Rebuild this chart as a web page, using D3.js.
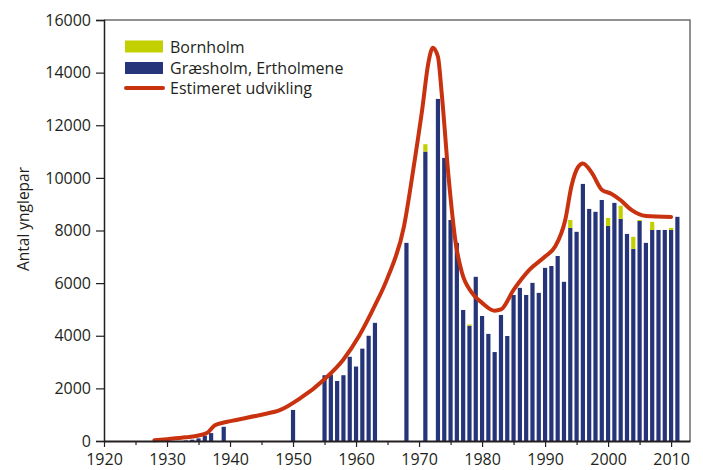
<!DOCTYPE html>
<html>
<head>
<meta charset="utf-8">
<script src="https://cdn.jsdelivr.net/npm/d3@7"></script>
<style>
  body { margin: 0; background: white; }
  text { font-family: "Open Sans", sans-serif; fill: #231f20; }
</style>
</head>
<body>
<script>
// years with counts
var years = [1933, 1934, 1935, 1936, 1937, 1939, 1950,
  1955, 1956, 1957, 1958, 1959, 1960, 1961, 1962, 1963, 1968, 1971,
  1973, 1974, 1975, 1976, 1977, 1978, 1979, 1980, 1981, 1982, 1983, 1984,
  1985, 1986, 1987, 1988, 1989, 1990, 1991, 1992, 1993, 1994, 1995, 1996,
  1997, 1998, 1999, 2000, 2001, 2002, 2003, 2004, 2005, 2006, 2007, 2008,
  2009, 2010, 2011]

// Græsholm, Ertholmene
var graesholm = [20, 50, 100, 200, 300, 540, 1180,
  2500, 2520, 2280, 2500, 3200, 2830, 3510, 4000, 4490, 7530, 11000,
  13000, 10760, 8400, 7530, 4980, 4380, 6240, 4750, 4070, 3380, 4790, 3990,
  5550, 5820, 5550, 6010, 5630, 6580, 6650, 7030, 6050, 8100, 7950, 9770,
  8820, 8710, 9160, 8170, 9050, 8440, 7870, 7300, 8360, 7530, 8020, 8020,
  8020, 8020, 8520]

// Bornholm
var bornholm = [0, 0, 0, 0, 0, 0, 0,
  0, 0, 0, 0, 0, 0, 0, 0, 0, 0, 280,
  0, 0, 0, 0, 0, 50, 0, 0, 0, 0, 0, 0,
  0, 0, 0, 0, 0, 0, 0, 0, 0, 300, 0, 0,
  0, 0, 0, 310, 0, 500, 0, 460, 40, 0, 310, 0,
  0, 80, 0]

// estimated development
var estYears = [1928, 1930, 1933, 1935, 1936.5, 1937.6, 1939.4, 1941, 1945, 1948, 1951,
  1955, 1958, 1960.5, 1963, 1965, 1967.6, 1969.2, 1970.5, 1971.5, 1972.2, 1973, 1973.6,
  1974.7, 1975.8, 1976.8, 1978.4, 1980, 1982, 1983, 1985, 1987.5, 1990, 1991.6, 1993.2,
  1994.2, 1995.2, 1996, 1997.4, 1999, 2000.5, 2002, 2003.7, 2006, 2010]
var estValues = [30, 70, 140, 210, 330, 600, 720, 800, 1000, 1180, 1600,
  2350, 3100, 4000, 5150, 6200, 8150, 10500, 12600, 14400, 14950, 14600, 13200,
  10000, 7550, 6400, 5630, 5250, 4950, 5000, 5740, 6500, 7010, 7390, 8400,
  9700, 10400, 10550, 10200, 9550, 9400, 9150, 8780, 8550, 8510]

var yTicks = [0, 2000, 4000, 6000, 8000, 10000, 12000, 14000, 16000]
var xTicks = [1920, 1930, 1940, 1950, 1960, 1970, 1980, 1990, 2000, 2010]

var blue = "#26347a"
var yellow = "#c3d000"
var red = "#c8320f"

var w = 703
var h = 470
var mLeft = 104, mRight = 690, mTop = 20, mBottom = 441

var svg = d3.select("body")
  .append("svg")
  .attr("width", w)
  .attr("height", h)

var x = d3.scaleLinear().domain([1920, 2013]).range([mLeft, mRight])
var y = d3.scaleLinear().domain([0, 16000]).range([mBottom, mTop])

var barW = 4.2

// frame on top and right
svg.append("path")
  .attr("d", "M" + mLeft + "," + mTop + "H" + mRight + "V" + mBottom)
  .attr("fill", "none")
  .attr("stroke", "#6d6e71")
  .attr("stroke-width", 1.5)

// bars - Græsholm
svg.selectAll(".gr")
  .data(years)
  .enter()
  .append("rect")
  .attr("class", "gr")
  .attr("x", d => x(d) - barW / 2)
  .attr("width", barW)
  .attr("y", (d, i) => y(graesholm[i]))
  .attr("height", (d, i) => y(0) - y(graesholm[i]))
  .attr("fill", blue)

// bars - Bornholm stacked on top
svg.selectAll(".bh")
  .data(years)
  .enter()
  .append("rect")
  .attr("class", "bh")
  .attr("x", d => x(d) - barW / 2)
  .attr("width", barW)
  .attr("y", (d, i) => y(graesholm[i] + bornholm[i]))
  .attr("height", (d, i) => y(graesholm[i]) - y(graesholm[i] + bornholm[i]))
  .attr("fill", yellow)

// estimated line
var line = d3.line()
  .x(d => x(d[0]))
  .y(d => y(d[1]))
  .curve(d3.curveMonotoneX)

svg.append("path")
  .datum(estYears.map((d, i) => [d, estValues[i]]))
  .attr("d", line)
  .attr("fill", "none")
  .attr("stroke", red)
  .attr("stroke-width", 4)
  .attr("stroke-linecap", "round")

// y axis
var yAxis = svg.append("g")
  .attr("transform", "translate(" + mLeft + ",0)")
  .call(d3.axisLeft(y).tickValues(yTicks).tickSize(8).tickPadding(5).tickFormat(d3.format("d")))
yAxis.selectAll("text").style("font-size", "16px").attr("font-family", null)
yAxis.select(".domain").attr("stroke", "#231f20").attr("stroke-width", 1.5)
yAxis.selectAll(".tick line").attr("stroke", "#231f20").attr("stroke-width", 1.2)

// x axis, minor ticks first
var xAxisMinor = svg.append("g")
  .attr("transform", "translate(0," + mBottom + ")")
  .call(d3.axisBottom(x).tickValues(xTicks.map(d => d + 5).filter(d => d < 2013)).tickSize(4).tickFormat(""))
xAxisMinor.select(".domain").remove()
xAxisMinor.selectAll(".tick line").attr("stroke", "#231f20").attr("stroke-width", 1.2)

var xAxis = svg.append("g")
  .attr("transform", "translate(0," + mBottom + ")")
  .call(d3.axisBottom(x).tickValues(xTicks).tickSize(6).tickPadding(7).tickFormat(d3.format("d")).tickSizeOuter(0))
xAxis.selectAll("text").style("font-size", "16px").attr("font-family", null)
xAxis.select(".domain").attr("stroke", "#231f20").attr("stroke-width", 2)
xAxis.selectAll(".tick line").attr("stroke", "#231f20").attr("stroke-width", 1.2)

// y axis title
svg.append("text")
  .attr("transform", "translate(29,219) rotate(-90)")
  .attr("text-anchor", "middle")
  .style("font-size", "15.5px")
  .text("Antal ynglepar")

// legend
var legend = svg.append("g")
legend.append("rect").attr("x", 125).attr("y", 40.5).attr("width", 38).attr("height", 12).attr("fill", yellow)
legend.append("rect").attr("x", 125).attr("y", 62).attr("width", 38).attr("height", 12).attr("fill", blue)
legend.append("line").attr("x1", 126).attr("x2", 163).attr("y1", 88).attr("y2", 88)
  .attr("stroke", red).attr("stroke-width", 4).attr("stroke-linecap", "round")
var labels = ["Bornholm", "Græsholm, Ertholmene", "Estimeret udvikling"]
var labelY = [52.5, 73.5, 93.5]
legend.selectAll("text.lg")
  .data(labels)
  .enter()
  .append("text")
  .attr("class", "lg")
  .attr("x", 170)
  .attr("y", (d, i) => labelY[i])
  .style("font-size", "16px")
  .text(d => d)
</script>
</body>
</html>
